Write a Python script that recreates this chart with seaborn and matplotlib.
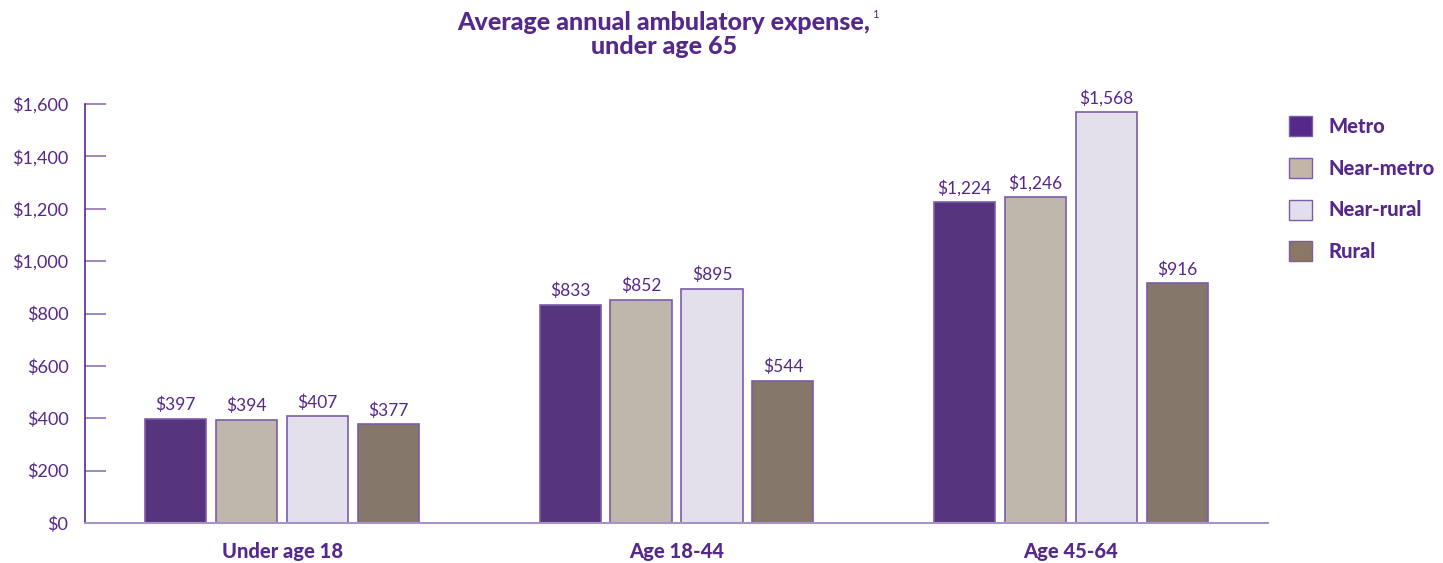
import matplotlib
matplotlib.use("Agg")
import matplotlib.pyplot as plt
import seaborn as sns
import pandas as pd
from matplotlib.patches import Patch

groups = ["Under age 18", "Age 18-44", "Age 45-64"]
series = ["Metro", "Near-metro", "Near-rural", "Rural"]
metro = [397, 833, 1224]
near_metro = [394, 852, 1246]
near_rural = [407, 895, 1568]
rural = [377, 544, 916]
yticks = [0, 200, 400, 600, 800, 1000, 1200, 1400, 1600]
colors = ["#55298A", "#C2B6A9", "#E2DEEE", "#8A7865"]

TXT = "#55288A"
rows = []
for s, vals in zip(series, [metro, near_metro, near_rural, rural]):
    for g, v in zip(groups, vals):
        rows.append({"group": g, "series": s, "value": v})
df = pd.DataFrame(rows)

sns.set_style("white")
plt.rcParams['font.family'] = ['Lato', 'DejaVu Sans']

W, H = 1443, 563
fig = plt.figure(figsize=(W / 100, H / 100), dpi=100)
ax = fig.add_axes([85/W, 1 - 523/H, (1268-85)/W, (523-104)/H])
sns.barplot(data=df, x="group", y="value", hue="series", order=groups,
            hue_order=series, palette=colors, width=0.72, gap=0.14,
            edgecolor="#7B5CA8", linewidth=1.2, legend=False, ax=ax)

for cont in ax.containers:
    labels = [f"${int(v):,}" for v in cont.datavalues]
    ax.bar_label(cont, labels=labels, padding=4, color=TXT, fontsize=12.5)

ax.set_ylim(0, 1600)
ax.set_xlim(-0.5, 2.5)
ax.set_yticks(yticks)
ax.set_yticklabels([f"${v:,}" for v in yticks], color=TXT, fontsize=13)
ax.set_xticks(range(len(groups)))
ax.set_xticklabels(groups, color=TXT, fontsize=14.5, fontweight=900)
ax.tick_params(axis="y", left=True, direction="in", length=15, width=1.2,
               color="#8C72B4", pad=12)
ax.tick_params(axis="x", bottom=False, length=0, pad=14)
ax.set_xlabel("")
ax.set_ylabel("")
for side in ["top", "right"]:
    ax.spines[side].set_visible(False)
ax.spines["left"].set_color("#55298A")
ax.spines["left"].set_linewidth(1.2)
ax.spines["bottom"].set_color("#A893C9")
ax.spines["bottom"].set_linewidth(1.5)

t1 = fig.text(664/W, 1 - 22/H, "Average annual ambulatory expense,",
              ha="center", va="center", color=TXT, fontsize=18, fontweight=900)
fig.text(664/W, 1 - 46/H, "under age 65",
         ha="center", va="center", color=TXT, fontsize=18, fontweight=900)
fig.canvas.draw()
bb = t1.get_window_extent()
fig.text((bb.x1 + 2) / W, 1 - 14/H, "1", ha="left", va="center", color=TXT, fontsize=8)

handles = [Patch(facecolor=c, edgecolor="#7B5CA8", linewidth=1.0) for c in colors]
leg = fig.legend(handles, series, loc="upper left", bbox_to_anchor=(1283/W, 1 - 110/H),
                 frameon=False, labelspacing=1.08, handlelength=1.15, handleheight=1.15,
                 handletextpad=0.8, borderaxespad=0, borderpad=0.3,
                 prop={"size": 14.5, "weight": 900})
for t in leg.get_texts():
    t.set_color(TXT)

fig.savefig("out.png", dpi=100)
